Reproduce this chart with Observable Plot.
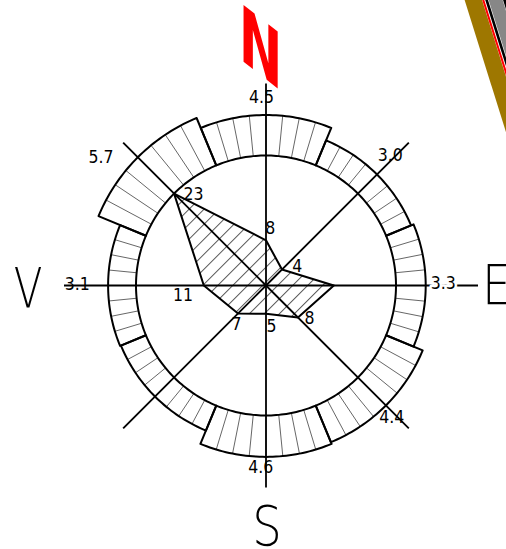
<!DOCTYPE html>
<html><head><meta charset="utf-8">
<script src="https://cdn.jsdelivr.net/npm/d3@7"></script>
<script src="https://cdn.jsdelivr.net/npm/@observablehq/plot@0.6"></script>
<style>html,body{margin:0;padding:0;background:#fff;overflow:hidden} svg{display:block}</style>
</head><body><div id="chart"></div>
<script>
// ---- data ----
const directions = ["N", "NE", "E", "SE", "S", "SW", "W", "NW"];
const bearings = [0, 45, 90, 135, 180, 225, 270, 315];
const windSpeed = [4.5, 3.0, 3.3, 4.4, 4.6, 3.0, 3.1, 5.7];
const speedLabels = ["4.5", "3.0", "3.3", "4.4", "4.6", "", "3.1", "5.7"];
const frequency = [8, 4, 12, 8, 5, 7, 11, 23];
const frequencyLabels = ["8", "4", "", "8", "5", "7", "11", "23"];
const compassLetters = ["N", "E", "S", "V"];
const compassBearings = [0, 90, 180, 270];
// fragment of a neighbouring drawing element (road edge), in chart units
const roadEdgeX = [189.4, 261.4];
const roadEdgeY = [315, 85];

// ---- layout ----
const W = 506, H = 549, cx = 265.5, cy = 285;
const innerR = 130, speedPx = 9, half = 22.5, hatchStep = 45 / 8;
const freqPx = innerR / d3.max(frequency);
const axisR = 202, labelR = 184, letterR = 238;
const speedNudge = {N: [-4.5, -4.4], NE: [-5.9, -0.4], E: [-6.7, -1.7], SE: [-4.3, 1.7], S: [-5.2, -2.2], W: [-4.8, -0.9], NW: [-34.9, 2.2]};
const freqNudge = {N: [4.2, -11.5], NE: [15.2, -2.9], SE: [11.5, 0.5], S: [5.5, 12.5], SW: [-1.5, 10.5], W: [-20.8, 9.8], NW: [19.4, 0.4]};
const letterNudge = {N: [-5.5, 2.5], E: [-7.7, 0.8], S: [1, 3.5], V: [0, 3.5]};

const rad = a => a * Math.PI / 180;
const px = (b, r) => r * Math.sin(rad(b));
const py = (b, r) => r * Math.cos(rad(b));

// sectors (speed bars)
const sectorPts = directions.flatMap((dir, i) => {
  const b = bearings[i], R = innerR + speedPx * windSpeed[i], pts = [];
  for (let k = 0; k <= 40; k++) { const a = b - half + k * 45 / 40; pts.push({dir, x: px(a, R), y: py(a, R)}); }
  for (let k = 40; k >= 0; k--) { const a = b - half + k * 45 / 40; pts.push({dir, x: px(a, innerR), y: py(a, innerR)}); }
  return pts;
});
const sectorHatch = directions.flatMap((dir, i) => d3.range(1, 8).map(k => {
  const a = bearings[i] - half + k * hatchStep, R = innerR + speedPx * windSpeed[i];
  return {x1: px(a, innerR), y1: py(a, innerR), x2: px(a, R), y2: py(a, R)};
}));
// frequency polygon
const poly = directions.map((dir, i) => ({dir, x: px(bearings[i], frequency[i] * freqPx), y: py(bearings[i], frequency[i] * freqPx)}));
// axes
const axes = directions.map((dir, i) => {
  const r = dir === "E" ? 212 : axisR;
  return {x1: 0, y1: 0, x2: px(bearings[i], r), y2: py(bearings[i], r)};
});
// labels
const speedLab = directions.map((dir, i) => ({dir, text: speedLabels[i], i})).filter(d => d.text).map(d => {
  const b = bearings[d.i], n = speedNudge[d.dir];
  return {...d, x: px(b, labelR) + n[0], y: py(b, labelR) - n[1]};
});
const freqLab = directions.map((dir, i) => ({dir, text: frequencyLabels[i], i})).filter(d => d.text).map(d => {
  const b = bearings[d.i], r = frequency[d.i] * freqPx, n = freqNudge[d.dir];
  return {...d, x: px(b, r) + n[0], y: py(b, r) - n[1]};
});
const letters = compassLetters.map((t, i) => {
  const n = letterNudge[t];
  return {text: t, x: px(compassBearings[i], letterR) + n[0], y: py(compassBearings[i], letterR) - n[1]};
});
const road = roadEdgeX.map((x, i) => ({x, y: roadEdgeY[i]}));
const roadStrip = (off, color, w) => Plot.line(road, {x: d => d.x + off, y: "y", stroke: color, strokeWidth: w, strokeLinecap: "butt"});

const numFont = "DejaVu Sans Condensed, DejaVu Sans, sans-serif";

const svg = Plot.plot({
  width: W, height: H, margin: 0,
  x: {domain: [-cx, W - cx], axis: null},
  y: {domain: [cy - H, cy], axis: null},
  style: {background: "white"},
  marks: [
    roadStrip(31, "#878787", 13.4),
    roadStrip(8.7, "#9e7700", 16.6),
    roadStrip(18.6, "#ff0000", 2),
    roadStrip(22, "#000000", 2.6),
    roadStrip(40, "#000000", 3),
    Plot.line(sectorPts, {x: "x", y: "y", z: "dir", curve: "linear-closed", fill: "white", stroke: "none"}),
    Plot.link(sectorHatch, {x1: "x1", y1: "y1", x2: "x2", y2: "y2", stroke: "#555", strokeWidth: 0.9}),
    Plot.line(sectorPts, {x: "x", y: "y", z: "dir", curve: "linear-closed", fill: "none", stroke: "black", strokeWidth: 2}),
    Plot.line(poly, {x: "x", y: "y", curve: "linear-closed", fill: "url(#hatch)", stroke: "black", strokeWidth: 2}),
    Plot.link(axes, {x1: "x1", y1: "y1", x2: "x2", y2: "y2", stroke: "black", strokeWidth: 1.8}),
    Plot.text(speedLab.filter(d => d.dir !== "E"), {x: "x", y: "y", text: "text", fontFamily: numFont, fontSize: 17.5, textAnchor: "middle", lineAnchor: "middle"}),
    Plot.text(speedLab.filter(d => d.dir === "E"), {x: "x", y: "y", text: "text", fontFamily: numFont, fontSize: 17.5, textAnchor: "middle", lineAnchor: "middle", fill: "black", stroke: "white", strokeWidth: 5, paintOrder: "stroke"}),
    Plot.text(freqLab, {x: "x", y: "y", text: "text", fontFamily: numFont, fontSize: 17.5, textAnchor: "middle", lineAnchor: "middle"}),
    Plot.text(letters.filter(d => d.text === "N"), {x: "x", y: "y", text: "text", fontFamily: "DejaVu Sans, sans-serif", fontWeight: "bold", fontSize: 78, fill: "#ff0000", textAnchor: "middle", lineAnchor: "middle"}),
    Plot.text(letters.filter(d => d.text !== "N"), {x: "x", y: "y", text: "text", fontFamily: "DejaVu Sans, sans-serif", fontWeight: 200, fontSize: 56, fill: "black", textAnchor: "middle", lineAnchor: "middle"})
  ]
});

// hatch pattern for the frequency polygon
const defs = d3.select(svg).insert("defs", ":first-child");
const pat = defs.append("pattern").attr("id", "hatch").attr("patternUnits", "userSpaceOnUse")
  .attr("width", 10.6).attr("height", 10.6).attr("patternTransform", "rotate(45)");
pat.append("rect").attr("width", 10.6).attr("height", 10.6).attr("fill", "white");
pat.append("line").attr("x1", 5.3).attr("y1", -1).attr("x2", 5.3).attr("y2", 11.6).attr("stroke", "#555").attr("stroke-width", 1);

// reshape the big compass letters (narrow CAD lettering)
const letterShape = {N: "skewY(38) scale(0.67,1)", V: "scale(0.75,1)", S: "scale(0.83,1)", E: "scale(0.8,1)"};
d3.select(svg).selectAll("text").filter(function () { return compassLetters.includes(this.textContent); }).each(function () {
  const ax = this.getAttribute("x"), ay = this.getAttribute("y");
  let tx = 0, ty = 0;
  if (ax && !/em$/.test(ax)) { tx = +ax; this.removeAttribute("x"); }
  if (ay && !/em$/.test(ay)) { ty = +ay; this.removeAttribute("y"); }
  const t = this.getAttribute("transform") || "";
  this.setAttribute("transform", `${t} translate(${tx},${ty}) ${letterShape[this.textContent]}`);
});

document.getElementById("chart").appendChild(svg);
</script>
</body></html>
